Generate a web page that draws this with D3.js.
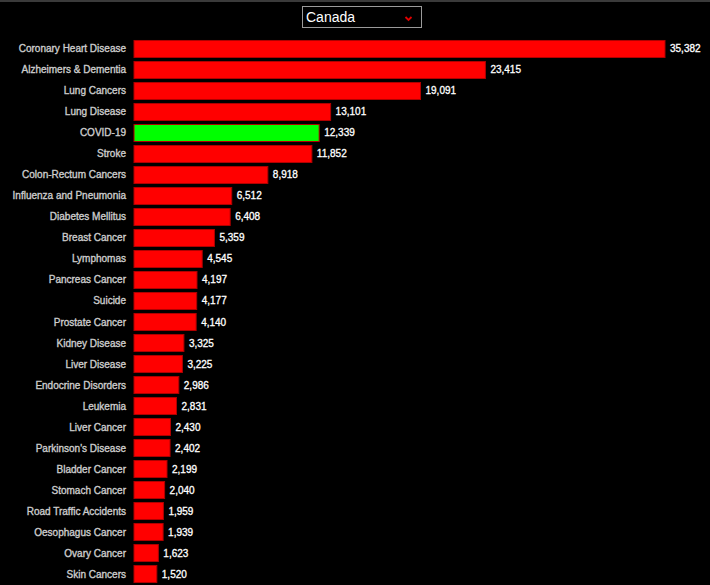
<!DOCTYPE html>
<html>
<head>
<meta charset="utf-8">
<script src="https://cdn.jsdelivr.net/npm/d3@7"></script>
<style>
  html, body { margin: 0; padding: 0; background: #000; }
  body { border-top: 2px solid #3a3a3a; }
  svg { display: block; }
</style>
</head>
<body>
<div id="chart"></div>
<script>
// causes of death, Canada
var causes = [
  "Coronary Heart Disease", "Alzheimers & Dementia", "Lung Cancers", "Lung Disease",
  "COVID-19", "Stroke", "Colon-Rectum Cancers", "Influenza and Pneumonia",
  "Diabetes Mellitus", "Breast Cancer", "Lymphomas", "Pancreas Cancer", "Suicide",
  "Prostate Cancer", "Kidney Disease", "Liver Disease", "Endocrine Disorders",
  "Leukemia", "Liver Cancer", "Parkinson's Disease", "Bladder Cancer",
  "Stomach Cancer", "Road Traffic Accidents", "Oesophagus Cancer", "Ovary Cancer",
  "Skin Cancers"
];
var deaths = [
  35382, 23415, 19091, 13101, 12339, 11852, 8918, 6512, 6408, 5359, 4545, 4197,
  4177, 4140, 3325, 3225, 2986, 2831, 2430, 2402, 2199, 2040, 1959, 1939, 1623, 1520
];
var countries = ["Canada"];
var highlight = "COVID-19";

var width = 710, height = 583;

var data = causes.map(function(c, i) { return { name: c, value: deaths[i] }; });

var svg = d3.select("#chart").append("svg")
  .attr("width", width)
  .attr("height", height);

// dropdown box
var dd = svg.append("g").attr("transform", "translate(302,4)");
dd.append("rect")
  .attr("x", 0.5).attr("y", 0.5)
  .attr("width", 119).attr("height", 21)
  .attr("fill", "#000")
  .attr("stroke", "#9a9a9a");
dd.append("text")
  .attr("x", 4).attr("y", 16)
  .attr("fill", "#fff")
  .style("font-family", "Liberation Sans, Arial, sans-serif")
  .style("font-size", "14px")
  .text(countries[0]);
dd.append("path")
  .attr("d", "M103.5,11 L106.5,14 L109.5,11")
  .attr("fill", "none")
  .attr("stroke", "#e00000")
  .attr("stroke-width", 1.8);

var x = d3.scaleLinear()
  .domain([0, d3.max(deaths)])
  .range([134, 665]);

var y = d3.scaleBand()
  .domain(causes)
  .range([34.5, 584.5])
  .padding(0.19);

svg.selectAll("rect.bar")
  .data(data)
  .enter().append("rect")
  .attr("class", "bar")
  .attr("x", x(0))
  .attr("y", function(d) { return y(d.name); })
  .attr("width", function(d) { return x(d.value) - x(0); })
  .attr("height", y.bandwidth())
  .attr("fill", function(d) { return d.name === highlight ? "#00ff00" : "#ff0000"; })
  .attr("stroke", "#b00000")
  .attr("stroke-width", 1);

svg.selectAll("text.label")
  .data(data)
  .enter().append("text")
  .attr("class", "label")
  .attr("x", 126)
  .attr("y", function(d) { return y(d.name) + y.bandwidth() / 2; })
  .attr("dy", "0.35em")
  .attr("text-anchor", "end")
  .attr("fill", "#cccccc")
  .attr("stroke", "#cccccc")
  .attr("stroke-width", 0.35)
  .style("font-family", "Liberation Sans, Arial, sans-serif")
  .style("font-size", "10px")
  .text(function(d) { return d.name; });

svg.selectAll("text.value")
  .data(data)
  .enter().append("text")
  .attr("class", "value")
  .attr("x", function(d) { return x(d.value) + 5; })
  .attr("y", function(d) { return y(d.name) + y.bandwidth() / 2; })
  .attr("dy", "0.35em")
  .attr("fill", "#ffffff")
  .attr("stroke", "#ffffff")
  .attr("stroke-width", 0.3)
  .style("font-family", "Liberation Sans, Arial, sans-serif")
  .style("font-size", "10px")
  .text(function(d) { return d3.format(",")(d.value); });
</script>
</body>
</html>
